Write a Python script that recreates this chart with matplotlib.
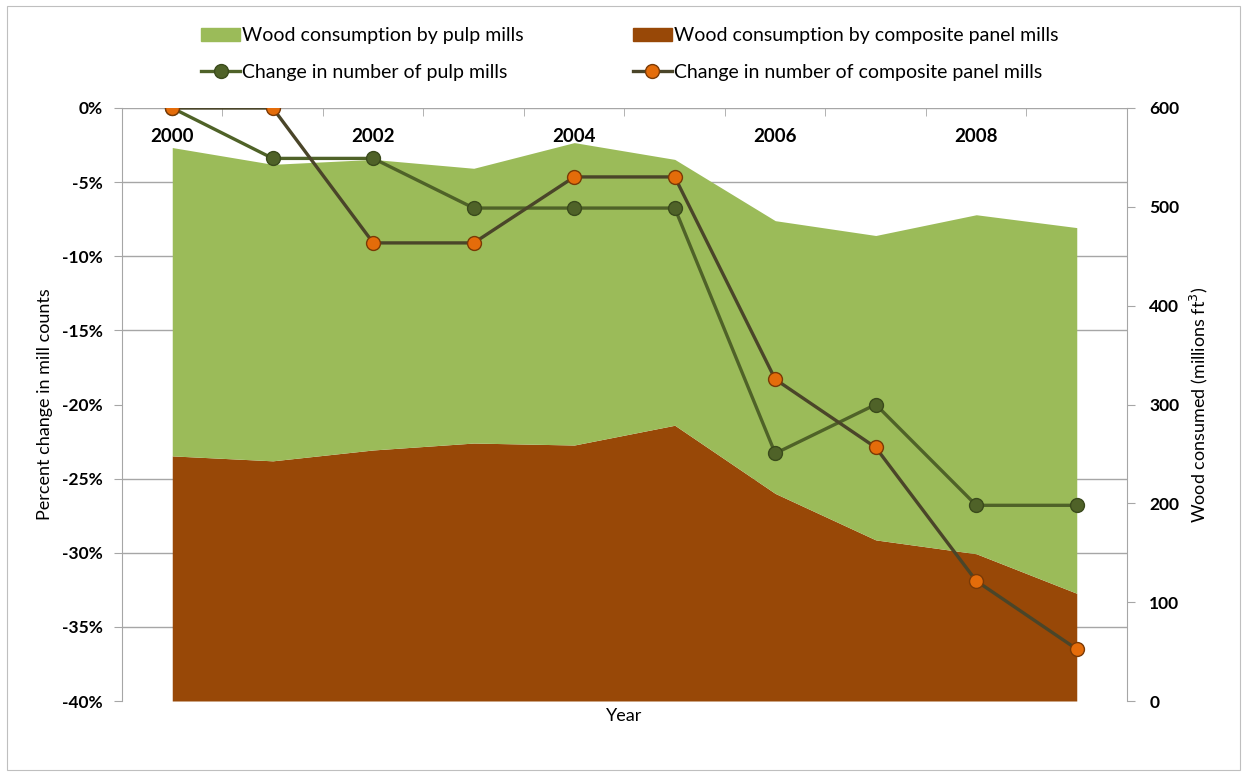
import numpy as np
import matplotlib.pyplot as plt
from matplotlib.patches import Patch, Rectangle
from matplotlib.lines import Line2D
from matplotlib.ticker import FixedLocator

plt.rcParams['font.family'] = ['Lato', 'DejaVu Sans']

years = np.arange(2000, 2010)
# wood consumed, millions ft3 (stacked: composite panel at bottom, pulp on top)
wood_panel = np.array([248, 243, 254, 261, 259, 279, 210, 163, 149, 109])
wood_pulp = np.array([312, 300, 294, 278, 306, 269, 276, 308, 343, 370])
# percent change in mill counts
pulp_change = np.array([0, -3.4, -3.4, -6.75, -6.75, -6.75, -23.3, -20.0, -26.8, -26.8])
panel_change = np.array([0, 0, -9.1, -9.1, -4.65, -4.65, -18.3, -22.9, -31.9, -36.5])
year_labels = [2000, 2002, 2004, 2006, 2008]

green = '#9BBB59'
brown = '#984807'
dark_green = '#4F6228'
orange = '#E46C0A'
line_dark = '#4A4529'
grid_c = '#A6A6A6'

fig = plt.figure(figsize=(12.47, 7.76), dpi=100)
fig.patches.append(Rectangle((0.006, 0.008), 0.988, 0.984, transform=fig.transFigure,
                             fill=False, edgecolor='#BFBFBF', linewidth=0.8))
ax = fig.add_axes([122 / 1247, 1 - 701 / 776, (1127 - 122) / 1247, (701 - 108) / 776])
ax2 = ax.twinx()

# areas on the right-hand scale
ax.fill_between(years, 0, wood_panel, color=brown, linewidth=0, zorder=2)
ax.fill_between(years, wood_panel, wood_panel + wood_pulp, color=green, linewidth=0, zorder=2)
ax.set_ylim(0, 600)
ax.set_xlim(1999.5, 2009.5)
ax.set_yticks(np.arange(0, 601, 100))
ax.set_yticklabels([str(v) for v in np.arange(0, 601, 100)], fontweight='bold')
ax.yaxis.set_minor_locator(FixedLocator(np.arange(0, 601, 75)))
ax.yaxis.set_ticks_position('right')
ax.yaxis.set_label_position('right')
ax.tick_params(axis='y', which='minor', length=0, left=False, right=False)
ax.tick_params(axis='y', which='major', length=6, color=grid_c, labelsize=12.5, pad=10)
ax.set_axisbelow(True)
ax.grid(axis='y', which='minor', color=grid_c, linewidth=1)
ax.set_ylabel('Wood consumed (millions ft$^3$)', fontsize=13, labelpad=6)
for s in ['top', 'bottom']:
    ax.spines[s].set_visible(False)
for s in ['left', 'right']:
    ax.spines[s].set_color(grid_c)

# year axis sitting on the 0% line
ax.xaxis.set_ticks_position('top')
ax.set_xticks(year_labels)
ax.set_xticklabels([str(y) for y in year_labels], fontweight='bold')
ax.xaxis.set_minor_locator(FixedLocator(np.arange(1999.5, 2009.6, 1)))
ax.tick_params(axis='x', which='major', length=0, labelsize=13.5, pad=-27)
ax.tick_params(axis='x', which='minor', length=6, direction='in', color=grid_c)
ax.set_xlabel('Year', fontsize=13, labelpad=5)
ax.xaxis.set_label_position('bottom')
ax.xaxis.set_zorder(5)

# lines on the left-hand scale
ax2.plot(years, pulp_change, color=dark_green, linewidth=2.4, marker='o', markersize=10,
         markerfacecolor=dark_green, markeredgecolor='#3A4A1C', markeredgewidth=1, zorder=3)
ax2.plot(years, panel_change, color=line_dark, linewidth=2.4, marker='o', markersize=10,
         markerfacecolor=orange, markeredgecolor='#7A3A06', markeredgewidth=1, zorder=4)
ax2.set_ylim(-40, 0)
ax2.set_yticks(np.arange(-40, 1, 5))
ax2.set_yticklabels([f'{v}%' for v in np.arange(-40, 1, 5)], fontweight='bold')
ax2.yaxis.set_ticks_position('left')
ax2.yaxis.set_label_position('left')
ax2.tick_params(axis='y', length=6, color=grid_c, labelsize=12.5, pad=8)
ax2.set_ylabel('Percent change in mill counts', fontsize=13, labelpad=6)
for s in ax2.spines.values():
    s.set_visible(False)
ax2.axhline(0, color=grid_c, linewidth=1, zorder=1)

handles = [Patch(color=green), Line2D([], [], color=dark_green, linewidth=2.4, marker='o', markersize=10,
                                      markerfacecolor=dark_green, markeredgecolor='#3A4A1C'),
           Patch(color=brown), Line2D([], [], color=line_dark, linewidth=2.4, marker='o', markersize=10,
                                      markerfacecolor=orange, markeredgecolor='#7A3A06')]
labels = ['Wood consumption by pulp mills', 'Change in number of pulp mills',
          'Wood consumption by composite panel mills', 'Change in number of composite panel mills']
fig.legend(handles, labels, ncol=2, loc='center', bbox_to_anchor=(0.505, 1 - 54 / 776),
           frameon=False, fontsize=14, columnspacing=5.6, handlelength=2.0, handletextpad=0.1,
           labelspacing=1.0)

fig.savefig('out.png', dpi=100)
